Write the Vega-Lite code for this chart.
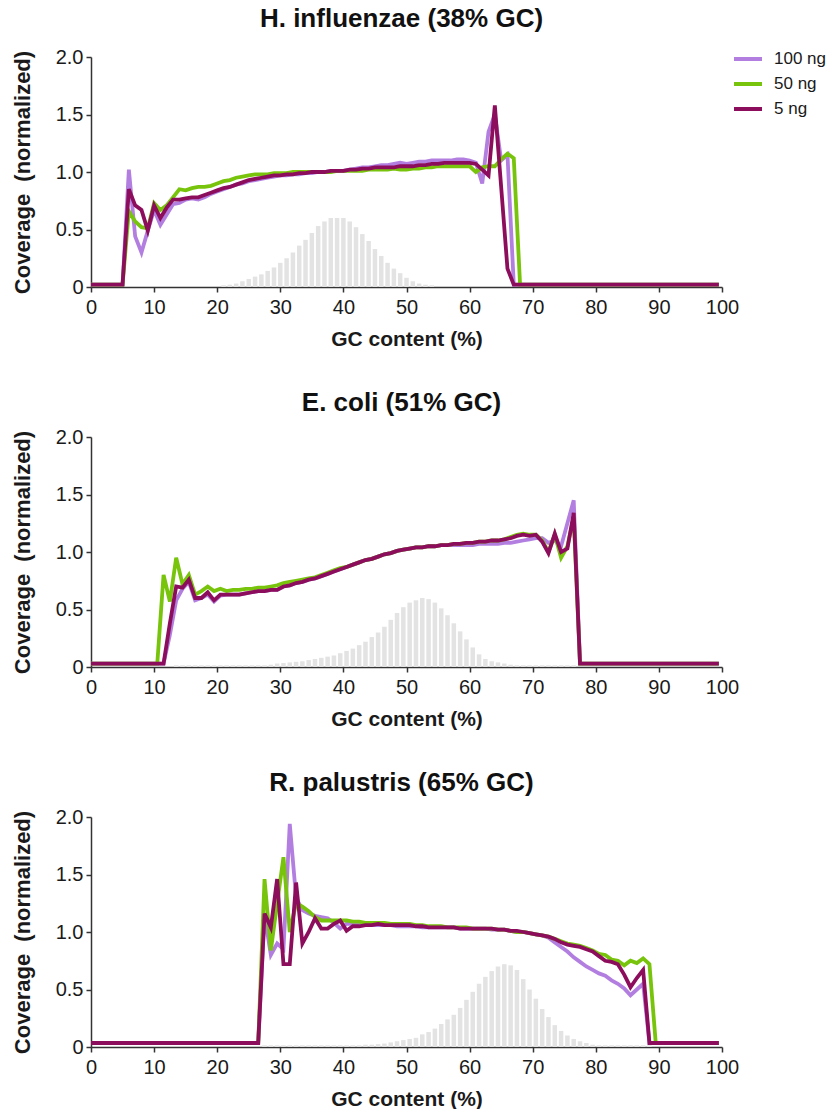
{
  "$schema": "https://vega.github.io/schema/vega-lite/v6.json",
  "background": "white",
  "padding": {"left": 11, "top": 6, "right": 0, "bottom": 0},
  "spacing": 41,
  "config": {
    "font": "Liberation Sans",
    "view": {"stroke": null},
    "axis": {
      "grid": false,
      "domainColor": "#333333",
      "domainWidth": 1.5,
      "tickColor": "#333333",
      "tickWidth": 1.5,
      "tickSize": 5,
      "labelFont": "Liberation Sans",
      "labelFontSize": 20,
      "labelColor": "#1a1a1a",
      "labelFlush": false,
      "titleFont": "Liberation Sans",
      "titleFontSize": 21,
      "titleFontWeight": "bold",
      "titleColor": "#1a1a1a"
    },
    "title": {
      "font": "Liberation Sans",
      "fontSize": 26,
      "fontWeight": "bold",
      "color": "#111111",
      "anchor": "middle",
      "dx": -5,
      "offset": 11
    },
    "legend": {
      "labelFont": "Liberation Sans",
      "labelFontSize": 17,
      "labelColor": "#1a1a1a"
    }
  },
  "resolve": {"legend": {"color": "independent"}},
  "datasets": {
    "H": [
      {"x":0,"100 ng":0.02,"50 ng":0.02,"5 ng":0.02},
      {"x":5,"100 ng":0.02,"50 ng":0.02,"5 ng":0.02},
      {"x":6,"100 ng":1.02,"50 ng":0.66,"5 ng":0.85},
      {"x":7,"100 ng":0.44,"50 ng":0.57,"5 ng":0.71},
      {"x":8,"100 ng":0.30,"50 ng":0.52,"5 ng":0.67},
      {"x":9,"100 ng":0.49,"50 ng":0.51,"5 ng":0.49},
      {"x":10,"100 ng":0.67,"50 ng":0.73,"5 ng":0.71},
      {"x":11,"100 ng":0.54,"50 ng":0.67,"5 ng":0.60},
      {"x":12,"100 ng":0.63,"50 ng":0.71,"5 ng":0.69},
      {"x":13,"100 ng":0.72,"50 ng":0.78,"5 ng":0.76},
      {"x":14,"100 ng":0.73,"50 ng":0.85,"5 ng":0.76},
      {"x":15,"100 ng":0.76,"50 ng":0.84,"5 ng":0.77},
      {"x":16,"100 ng":0.77,"50 ng":0.86,"5 ng":0.78},
      {"x":17,"100 ng":0.76,"50 ng":0.87,"5 ng":0.78},
      {"x":18,"100 ng":0.78,"50 ng":0.87,"5 ng":0.80},
      {"x":19,"100 ng":0.81,"50 ng":0.88,"5 ng":0.82},
      {"x":20,"100 ng":0.83,"50 ng":0.90,"5 ng":0.84},
      {"x":21,"100 ng":0.85,"50 ng":0.92,"5 ng":0.86},
      {"x":22,"100 ng":0.87,"50 ng":0.93,"5 ng":0.87},
      {"x":23,"100 ng":0.89,"50 ng":0.95,"5 ng":0.89},
      {"x":24,"100 ng":0.90,"50 ng":0.96,"5 ng":0.91},
      {"x":25,"100 ng":0.92,"50 ng":0.97,"5 ng":0.93},
      {"x":26,"100 ng":0.93,"50 ng":0.98,"5 ng":0.94},
      {"x":27,"100 ng":0.94,"50 ng":0.98,"5 ng":0.95},
      {"x":28,"100 ng":0.95,"50 ng":0.98,"5 ng":0.96},
      {"x":29,"100 ng":0.96,"50 ng":0.99,"5 ng":0.97},
      {"x":30,"100 ng":0.97,"50 ng":0.99,"5 ng":0.97},
      {"x":31,"100 ng":0.97,"50 ng":0.99,"5 ng":0.98},
      {"x":32,"100 ng":0.98,"50 ng":1.00,"5 ng":0.98},
      {"x":33,"100 ng":0.98,"50 ng":1.00,"5 ng":0.99},
      {"x":34,"100 ng":0.99,"50 ng":1.00,"5 ng":0.99},
      {"x":35,"100 ng":0.99,"50 ng":1.00,"5 ng":1.00},
      {"x":36,"100 ng":1.00,"50 ng":1.00,"5 ng":1.00},
      {"x":37,"100 ng":1.00,"50 ng":1.00,"5 ng":1.00},
      {"x":38,"100 ng":1.01,"50 ng":1.00,"5 ng":1.01},
      {"x":39,"100 ng":1.01,"50 ng":1.01,"5 ng":1.01},
      {"x":40,"100 ng":1.01,"50 ng":1.01,"5 ng":1.01},
      {"x":41,"100 ng":1.02,"50 ng":1.01,"5 ng":1.02},
      {"x":42,"100 ng":1.03,"50 ng":1.01,"5 ng":1.02},
      {"x":43,"100 ng":1.04,"50 ng":1.01,"5 ng":1.03},
      {"x":44,"100 ng":1.04,"50 ng":1.02,"5 ng":1.03},
      {"x":45,"100 ng":1.05,"50 ng":1.02,"5 ng":1.04},
      {"x":46,"100 ng":1.06,"50 ng":1.02,"5 ng":1.04},
      {"x":47,"100 ng":1.06,"50 ng":1.02,"5 ng":1.04},
      {"x":48,"100 ng":1.07,"50 ng":1.03,"5 ng":1.04},
      {"x":49,"100 ng":1.08,"50 ng":1.02,"5 ng":1.05},
      {"x":50,"100 ng":1.07,"50 ng":1.02,"5 ng":1.05},
      {"x":51,"100 ng":1.08,"50 ng":1.03,"5 ng":1.05},
      {"x":52,"100 ng":1.09,"50 ng":1.03,"5 ng":1.06},
      {"x":53,"100 ng":1.09,"50 ng":1.04,"5 ng":1.06},
      {"x":54,"100 ng":1.10,"50 ng":1.04,"5 ng":1.07},
      {"x":55,"100 ng":1.10,"50 ng":1.05,"5 ng":1.07},
      {"x":56,"100 ng":1.10,"50 ng":1.05,"5 ng":1.08},
      {"x":57,"100 ng":1.10,"50 ng":1.05,"5 ng":1.08},
      {"x":58,"100 ng":1.11,"50 ng":1.05,"5 ng":1.08},
      {"x":59,"100 ng":1.11,"50 ng":1.05,"5 ng":1.08},
      {"x":60,"100 ng":1.10,"50 ng":1.05,"5 ng":1.08},
      {"x":61,"100 ng":1.08,"50 ng":1.00,"5 ng":1.07},
      {"x":62,"100 ng":0.90,"50 ng":1.04,"5 ng":1.02},
      {"x":63,"100 ng":1.35,"50 ng":1.05,"5 ng":0.97},
      {"x":64,"100 ng":1.50,"50 ng":1.05,"5 ng":1.58},
      {"x":65,"100 ng":1.10,"50 ng":1.11,"5 ng":0.87},
      {"x":66,"100 ng":1.15,"50 ng":1.16,"5 ng":0.16},
      {"x":67,"100 ng":0.02,"50 ng":1.12,"5 ng":0.02},
      {"x":68,"100 ng":0.02,"50 ng":0.02,"5 ng":0.02},
      {"x":99.5,"100 ng":0.02,"50 ng":0.02,"5 ng":0.02}
    ],
    "E": [
      {"x":0,"100 ng":0.03,"50 ng":0.03,"5 ng":0.03},
      {"x":10.5,"100 ng":0.03,"50 ng":0.03,"5 ng":0.03},
      {"x":11.5,"100 ng":0.03,"50 ng":0.80,"5 ng":0.03},
      {"x":12.5,"100 ng":0.28,"50 ng":0.57,"5 ng":0.38},
      {"x":13.5,"100 ng":0.58,"50 ng":0.95,"5 ng":0.70},
      {"x":14.5,"100 ng":0.68,"50 ng":0.72,"5 ng":0.69},
      {"x":15.5,"100 ng":0.74,"50 ng":0.80,"5 ng":0.76},
      {"x":16.5,"100 ng":0.58,"50 ng":0.63,"5 ng":0.60},
      {"x":17.5,"100 ng":0.60,"50 ng":0.66,"5 ng":0.60},
      {"x":18.5,"100 ng":0.63,"50 ng":0.70,"5 ng":0.65},
      {"x":19.5,"100 ng":0.57,"50 ng":0.66,"5 ng":0.58},
      {"x":20.5,"100 ng":0.62,"50 ng":0.68,"5 ng":0.63},
      {"x":21.5,"100 ng":0.63,"50 ng":0.66,"5 ng":0.63},
      {"x":22.5,"100 ng":0.63,"50 ng":0.67,"5 ng":0.63},
      {"x":23.5,"100 ng":0.63,"50 ng":0.67,"5 ng":0.63},
      {"x":24.5,"100 ng":0.64,"50 ng":0.68,"5 ng":0.64},
      {"x":25.5,"100 ng":0.65,"50 ng":0.68,"5 ng":0.65},
      {"x":26.5,"100 ng":0.66,"50 ng":0.69,"5 ng":0.66},
      {"x":27.5,"100 ng":0.66,"50 ng":0.69,"5 ng":0.66},
      {"x":28.5,"100 ng":0.67,"50 ng":0.70,"5 ng":0.67},
      {"x":29.5,"100 ng":0.67,"50 ng":0.71,"5 ng":0.67},
      {"x":30.5,"100 ng":0.70,"50 ng":0.73,"5 ng":0.70},
      {"x":31.5,"100 ng":0.71,"50 ng":0.74,"5 ng":0.71},
      {"x":32.5,"100 ng":0.73,"50 ng":0.75,"5 ng":0.73},
      {"x":33.5,"100 ng":0.74,"50 ng":0.76,"5 ng":0.74},
      {"x":34.5,"100 ng":0.76,"50 ng":0.77,"5 ng":0.76},
      {"x":35.5,"100 ng":0.77,"50 ng":0.78,"5 ng":0.77},
      {"x":36.5,"100 ng":0.79,"50 ng":0.80,"5 ng":0.79},
      {"x":37.5,"100 ng":0.81,"50 ng":0.82,"5 ng":0.81},
      {"x":38.5,"100 ng":0.83,"50 ng":0.84,"5 ng":0.83},
      {"x":39.5,"100 ng":0.85,"50 ng":0.86,"5 ng":0.85},
      {"x":40.5,"100 ng":0.87,"50 ng":0.87,"5 ng":0.87},
      {"x":41.5,"100 ng":0.89,"50 ng":0.89,"5 ng":0.89},
      {"x":42.5,"100 ng":0.91,"50 ng":0.91,"5 ng":0.91},
      {"x":43.5,"100 ng":0.93,"50 ng":0.93,"5 ng":0.93},
      {"x":44.5,"100 ng":0.94,"50 ng":0.94,"5 ng":0.94},
      {"x":45.5,"100 ng":0.96,"50 ng":0.96,"5 ng":0.96},
      {"x":46.5,"100 ng":0.98,"50 ng":0.98,"5 ng":0.98},
      {"x":47.5,"100 ng":0.99,"50 ng":0.99,"5 ng":0.99},
      {"x":48.5,"100 ng":1.01,"50 ng":1.01,"5 ng":1.01},
      {"x":49.5,"100 ng":1.02,"50 ng":1.02,"5 ng":1.02},
      {"x":50.5,"100 ng":1.03,"50 ng":1.03,"5 ng":1.03},
      {"x":51.5,"100 ng":1.04,"50 ng":1.04,"5 ng":1.04},
      {"x":52.5,"100 ng":1.04,"50 ng":1.04,"5 ng":1.04},
      {"x":53.5,"100 ng":1.05,"50 ng":1.05,"5 ng":1.05},
      {"x":54.5,"100 ng":1.05,"50 ng":1.05,"5 ng":1.05},
      {"x":55.5,"100 ng":1.06,"50 ng":1.06,"5 ng":1.06},
      {"x":56.5,"100 ng":1.06,"50 ng":1.06,"5 ng":1.06},
      {"x":57.5,"100 ng":1.06,"50 ng":1.07,"5 ng":1.07},
      {"x":58.5,"100 ng":1.06,"50 ng":1.07,"5 ng":1.07},
      {"x":59.5,"100 ng":1.06,"50 ng":1.08,"5 ng":1.08},
      {"x":60.5,"100 ng":1.06,"50 ng":1.08,"5 ng":1.08},
      {"x":61.5,"100 ng":1.07,"50 ng":1.09,"5 ng":1.09},
      {"x":62.5,"100 ng":1.07,"50 ng":1.09,"5 ng":1.09},
      {"x":63.5,"100 ng":1.07,"50 ng":1.10,"5 ng":1.10},
      {"x":64.5,"100 ng":1.07,"50 ng":1.10,"5 ng":1.10},
      {"x":65.5,"100 ng":1.08,"50 ng":1.11,"5 ng":1.11},
      {"x":66.5,"100 ng":1.08,"50 ng":1.13,"5 ng":1.12},
      {"x":67.5,"100 ng":1.09,"50 ng":1.15,"5 ng":1.14},
      {"x":68.5,"100 ng":1.10,"50 ng":1.16,"5 ng":1.15},
      {"x":69.5,"100 ng":1.11,"50 ng":1.15,"5 ng":1.14},
      {"x":70.5,"100 ng":1.12,"50 ng":1.15,"5 ng":1.15},
      {"x":71.5,"100 ng":1.12,"50 ng":1.10,"5 ng":1.09},
      {"x":72.5,"100 ng":1.08,"50 ng":1.00,"5 ng":0.99},
      {"x":73.5,"100 ng":1.10,"50 ng":1.15,"5 ng":1.16},
      {"x":74.5,"100 ng":1.05,"50 ng":0.95,"5 ng":1.00},
      {"x":75.5,"100 ng":1.25,"50 ng":1.05,"5 ng":1.03},
      {"x":76.5,"100 ng":1.45,"50 ng":1.30,"5 ng":1.34},
      {"x":77.5,"100 ng":0.03,"50 ng":0.03,"5 ng":0.03},
      {"x":99.5,"100 ng":0.03,"50 ng":0.03,"5 ng":0.03}
    ],
    "R": [
      {"x":0,"100 ng":0.035,"50 ng":0.035,"5 ng":0.035},
      {"x":26.5,"100 ng":0.035,"50 ng":0.035,"5 ng":0.035},
      {"x":27.5,"100 ng":1.15,"50 ng":1.46,"5 ng":1.16},
      {"x":28.5,"100 ng":0.80,"50 ng":0.84,"5 ng":1.04},
      {"x":29.5,"100 ng":0.90,"50 ng":1.25,"5 ng":1.46},
      {"x":30.5,"100 ng":0.85,"50 ng":1.65,"5 ng":0.72},
      {"x":31.5,"100 ng":1.94,"50 ng":1.00,"5 ng":0.72},
      {"x":32.5,"100 ng":1.30,"50 ng":1.25,"5 ng":1.43},
      {"x":33.5,"100 ng":1.19,"50 ng":1.22,"5 ng":0.90},
      {"x":34.5,"100 ng":1.16,"50 ng":1.18,"5 ng":1.00},
      {"x":35.5,"100 ng":1.14,"50 ng":1.13,"5 ng":1.12},
      {"x":36.5,"100 ng":1.13,"50 ng":1.10,"5 ng":1.03},
      {"x":37.5,"100 ng":1.12,"50 ng":1.10,"5 ng":1.03},
      {"x":38.5,"100 ng":1.08,"50 ng":1.10,"5 ng":1.07},
      {"x":39.5,"100 ng":1.03,"50 ng":1.10,"5 ng":1.10},
      {"x":40.5,"100 ng":1.07,"50 ng":1.10,"5 ng":1.01},
      {"x":41.5,"100 ng":1.07,"50 ng":1.09,"5 ng":1.05},
      {"x":42.5,"100 ng":1.07,"50 ng":1.09,"5 ng":1.05},
      {"x":43.5,"100 ng":1.07,"50 ng":1.08,"5 ng":1.06},
      {"x":44.5,"100 ng":1.06,"50 ng":1.08,"5 ng":1.06},
      {"x":45.5,"100 ng":1.06,"50 ng":1.08,"5 ng":1.07},
      {"x":46.5,"100 ng":1.06,"50 ng":1.08,"5 ng":1.06},
      {"x":47.5,"100 ng":1.06,"50 ng":1.07,"5 ng":1.06},
      {"x":48.5,"100 ng":1.05,"50 ng":1.07,"5 ng":1.06},
      {"x":49.5,"100 ng":1.05,"50 ng":1.07,"5 ng":1.06},
      {"x":50.5,"100 ng":1.05,"50 ng":1.07,"5 ng":1.06},
      {"x":51.5,"100 ng":1.05,"50 ng":1.06,"5 ng":1.05},
      {"x":52.5,"100 ng":1.04,"50 ng":1.06,"5 ng":1.05},
      {"x":53.5,"100 ng":1.04,"50 ng":1.05,"5 ng":1.04},
      {"x":54.5,"100 ng":1.04,"50 ng":1.05,"5 ng":1.04},
      {"x":55.5,"100 ng":1.04,"50 ng":1.05,"5 ng":1.04},
      {"x":56.5,"100 ng":1.04,"50 ng":1.04,"5 ng":1.04},
      {"x":57.5,"100 ng":1.04,"50 ng":1.04,"5 ng":1.04},
      {"x":58.5,"100 ng":1.03,"50 ng":1.04,"5 ng":1.03},
      {"x":59.5,"100 ng":1.03,"50 ng":1.04,"5 ng":1.03},
      {"x":60.5,"100 ng":1.03,"50 ng":1.03,"5 ng":1.03},
      {"x":61.5,"100 ng":1.03,"50 ng":1.03,"5 ng":1.03},
      {"x":62.5,"100 ng":1.03,"50 ng":1.03,"5 ng":1.03},
      {"x":63.5,"100 ng":1.02,"50 ng":1.03,"5 ng":1.03},
      {"x":64.5,"100 ng":1.02,"50 ng":1.02,"5 ng":1.02},
      {"x":65.5,"100 ng":1.02,"50 ng":1.02,"5 ng":1.02},
      {"x":66.5,"100 ng":1.01,"50 ng":1.01,"5 ng":1.01},
      {"x":67.5,"100 ng":1.00,"50 ng":1.00,"5 ng":1.01},
      {"x":68.5,"100 ng":1.00,"50 ng":1.00,"5 ng":1.00},
      {"x":69.5,"100 ng":0.99,"50 ng":0.99,"5 ng":0.99},
      {"x":70.5,"100 ng":0.98,"50 ng":0.98,"5 ng":0.98},
      {"x":71.5,"100 ng":0.97,"50 ng":0.97,"5 ng":0.97},
      {"x":72.5,"100 ng":0.95,"50 ng":0.96,"5 ng":0.96},
      {"x":73.5,"100 ng":0.91,"50 ng":0.94,"5 ng":0.94},
      {"x":74.5,"100 ng":0.87,"50 ng":0.92,"5 ng":0.91},
      {"x":75.5,"100 ng":0.83,"50 ng":0.90,"5 ng":0.89},
      {"x":76.5,"100 ng":0.78,"50 ng":0.89,"5 ng":0.88},
      {"x":77.5,"100 ng":0.74,"50 ng":0.88,"5 ng":0.87},
      {"x":78.5,"100 ng":0.70,"50 ng":0.86,"5 ng":0.85},
      {"x":79.5,"100 ng":0.67,"50 ng":0.84,"5 ng":0.83},
      {"x":80.5,"100 ng":0.64,"50 ng":0.81,"5 ng":0.79},
      {"x":81.5,"100 ng":0.62,"50 ng":0.80,"5 ng":0.75},
      {"x":82.5,"100 ng":0.58,"50 ng":0.76,"5 ng":0.74},
      {"x":83.5,"100 ng":0.55,"50 ng":0.75,"5 ng":0.72},
      {"x":84.5,"100 ng":0.51,"50 ng":0.71,"5 ng":0.63},
      {"x":85.5,"100 ng":0.45,"50 ng":0.75,"5 ng":0.52},
      {"x":86.5,"100 ng":0.50,"50 ng":0.73,"5 ng":0.60},
      {"x":87.5,"100 ng":0.55,"50 ng":0.77,"5 ng":0.67},
      {"x":88.5,"100 ng":0.035,"50 ng":0.72,"5 ng":0.035},
      {"x":89.5,"100 ng":0.035,"50 ng":0.035,"5 ng":0.035},
      {"x":99.5,"100 ng":0.035,"50 ng":0.035,"5 ng":0.035}
    ],
    "hH": [
      {"x":21,"h":0.015},{"x":22,"h":0.02},{"x":23,"h":0.03},{"x":24,"h":0.05},{"x":25,"h":0.07},
      {"x":26,"h":0.09},{"x":27,"h":0.11},{"x":28,"h":0.14},{"x":29,"h":0.17},{"x":30,"h":0.21},
      {"x":31,"h":0.25},{"x":32,"h":0.30},{"x":33,"h":0.36},{"x":34,"h":0.41},{"x":35,"h":0.47},
      {"x":36,"h":0.53},{"x":37,"h":0.57},{"x":38,"h":0.60},{"x":39,"h":0.60},{"x":40,"h":0.60},
      {"x":41,"h":0.57},{"x":42,"h":0.52},{"x":43,"h":0.46},{"x":44,"h":0.40},{"x":45,"h":0.33},
      {"x":46,"h":0.27},{"x":47,"h":0.21},{"x":48,"h":0.16},{"x":49,"h":0.12},{"x":50,"h":0.08},
      {"x":51,"h":0.05},{"x":52,"h":0.03},{"x":53,"h":0.02},{"x":54,"h":0.015}
    ],
    "hE": [
      {"x":13.5,"h":0.015},{"x":14.5,"h":0.015},{"x":15.5,"h":0.015},{"x":16.5,"h":0.015},{"x":17.5,"h":0.015},
      {"x":18.5,"h":0.015},{"x":19.5,"h":0.015},{"x":20.5,"h":0.015},{"x":21.5,"h":0.015},{"x":22.5,"h":0.015},
      {"x":23.5,"h":0.015},{"x":24.5,"h":0.015},{"x":25.5,"h":0.015},{"x":26.5,"h":0.015},{"x":27.5,"h":0.015},
      {"x":28.5,"h":0.02},{"x":29.5,"h":0.03},{"x":30.5,"h":0.035},{"x":31.5,"h":0.04},{"x":32.5,"h":0.045},
      {"x":33.5,"h":0.05},{"x":34.5,"h":0.06},{"x":35.5,"h":0.07},{"x":36.5,"h":0.08},{"x":37.5,"h":0.09},
      {"x":38.5,"h":0.10},{"x":39.5,"h":0.12},{"x":40.5,"h":0.14},{"x":41.5,"h":0.16},{"x":42.5,"h":0.19},
      {"x":43.5,"h":0.22},{"x":44.5,"h":0.26},{"x":45.5,"h":0.30},{"x":46.5,"h":0.35},{"x":47.5,"h":0.41},
      {"x":48.5,"h":0.47},{"x":49.5,"h":0.52},{"x":50.5,"h":0.56},{"x":51.5,"h":0.58},{"x":52.5,"h":0.60},
      {"x":53.5,"h":0.59},{"x":54.5,"h":0.56},{"x":55.5,"h":0.51},{"x":56.5,"h":0.45},{"x":57.5,"h":0.38},
      {"x":58.5,"h":0.31},{"x":59.5,"h":0.24},{"x":60.5,"h":0.17},{"x":61.5,"h":0.11},{"x":62.5,"h":0.07},
      {"x":63.5,"h":0.05},{"x":64.5,"h":0.04},{"x":65.5,"h":0.03},{"x":66.5,"h":0.02},{"x":67.5,"h":0.015},
      {"x":68.5,"h":0.015},{"x":69.5,"h":0.015},{"x":70.5,"h":0.015},{"x":71.5,"h":0.015},{"x":72.5,"h":0.015},
      {"x":73.5,"h":0.015},{"x":74.5,"h":0.015},{"x":75.5,"h":0.015},{"x":76.5,"h":0.015}
    ],
    "hR": [
      {"x":27.5,"h":0.015},{"x":28.5,"h":0.015},{"x":29.5,"h":0.015},{"x":30.5,"h":0.015},{"x":31.5,"h":0.015},
      {"x":32.5,"h":0.015},{"x":33.5,"h":0.015},{"x":34.5,"h":0.015},{"x":35.5,"h":0.015},{"x":36.5,"h":0.015},
      {"x":37.5,"h":0.015},{"x":38.5,"h":0.015},{"x":39.5,"h":0.015},{"x":40.5,"h":0.015},{"x":41.5,"h":0.015},
      {"x":42.5,"h":0.015},{"x":43.5,"h":0.02},{"x":44.5,"h":0.02},{"x":45.5,"h":0.025},{"x":46.5,"h":0.03},
      {"x":47.5,"h":0.04},{"x":48.5,"h":0.05},{"x":49.5,"h":0.06},{"x":50.5,"h":0.07},{"x":51.5,"h":0.08},
      {"x":52.5,"h":0.11},{"x":53.5,"h":0.13},{"x":54.5,"h":0.16},{"x":55.5,"h":0.20},{"x":56.5,"h":0.24},
      {"x":57.5,"h":0.28},{"x":58.5,"h":0.34},{"x":59.5,"h":0.41},{"x":60.5,"h":0.48},{"x":61.5,"h":0.55},
      {"x":62.5,"h":0.61},{"x":63.5,"h":0.66},{"x":64.5,"h":0.70},{"x":65.5,"h":0.72},{"x":66.5,"h":0.71},
      {"x":67.5,"h":0.67},{"x":68.5,"h":0.59},{"x":69.5,"h":0.50},{"x":70.5,"h":0.42},{"x":71.5,"h":0.33},
      {"x":72.5,"h":0.26},{"x":73.5,"h":0.19},{"x":74.5,"h":0.14},{"x":75.5,"h":0.10},{"x":76.5,"h":0.07},
      {"x":77.5,"h":0.05},{"x":78.5,"h":0.035},{"x":79.5,"h":0.02},{"x":80.5,"h":0.015},{"x":81.5,"h":0.015},
      {"x":82.5,"h":0.015},{"x":83.5,"h":0.015},{"x":84.5,"h":0.015},{"x":85.5,"h":0.015},{"x":86.5,"h":0.015},
      {"x":87.5,"h":0.015},{"x":88.5,"h":0.015}
    ]
  },
  "vconcat": [
    {
      "width": 631,
      "height": 230,
      "title": "H. influenzae (38% GC)",
      "layer": [
        {
          "data": {"name": "hH"},
          "mark": {"type": "bar", "color": "#e3e3e3", "size": 4.5},
          "encoding": {
            "x": {"field": "x", "type": "quantitative", "scale": {"domain": [0, 100], "nice": false, "padding": 0}, "axis": {"title": "GC content (%)", "values": [0,10,20,30,40,50,60,70,80,90,100], "format": "d", "labelPadding": 5, "titlePadding": 11}},
            "y": {"field": "h", "type": "quantitative", "scale": {"domain": [0, 2], "nice": false}, "axis": {"title": "Coverage\u00a0 (normalized)", "titleFontSize": 22, "values": [0,0.5,1,1.5,2], "labelExpr": "datum.value == 0 ? '0' : format(datum.value, '.1f')", "labelPadding": 3, "titlePadding": 21}}
          }
        },
        {
          "data": {"name": "H"},
          "transform": [{"fold": ["100 ng", "50 ng", "5 ng"], "as": ["amount", "cov"]}],
          "mark": {"type": "line", "strokeWidth": 3.8},
          "encoding": {
            "x": {"field": "x", "type": "quantitative"},
            "y": {"field": "cov", "type": "quantitative"},
            "color": {"field": "amount", "type": "nominal", "sort": ["100 ng", "50 ng", "5 ng"], "scale": {"domain": ["100 ng", "50 ng", "5 ng"], "range": ["#b27fe0", "#78c40c", "#8c0d5c"]},
              "legend": {"orient": "none", "legendX": 641, "legendY": -14, "title": null, "symbolType": "stroke", "symbolStrokeWidth": 4, "symbolSize": 784, "rowPadding": 1, "labelOffset": 10, "padding": 0}}
          }
        }
      ]
    },
    {
      "width": 631,
      "height": 230,
      "title": "E. coli (51% GC)",
      "layer": [
        {
          "data": {"name": "hE"},
          "mark": {"type": "bar", "color": "#e3e3e3", "size": 4.5},
          "encoding": {
            "x": {"field": "x", "type": "quantitative", "scale": {"domain": [0, 100], "nice": false, "padding": 0}, "axis": {"title": "GC content (%)", "values": [0,10,20,30,40,50,60,70,80,90,100], "format": "d", "labelPadding": 5, "titlePadding": 11}},
            "y": {"field": "h", "type": "quantitative", "scale": {"domain": [0, 2], "nice": false}, "axis": {"title": "Coverage\u00a0 (normalized)", "titleFontSize": 22, "values": [0,0.5,1,1.5,2], "labelExpr": "datum.value == 0 ? '0' : format(datum.value, '.1f')", "labelPadding": 3, "titlePadding": 21}}
          }
        },
        {
          "data": {"name": "E"},
          "transform": [{"fold": ["100 ng", "50 ng", "5 ng"], "as": ["amount", "cov"]}],
          "mark": {"type": "line", "strokeWidth": 3.8},
          "encoding": {
            "x": {"field": "x", "type": "quantitative"},
            "y": {"field": "cov", "type": "quantitative"},
            "color": {"field": "amount", "type": "nominal", "sort": ["100 ng", "50 ng", "5 ng"], "scale": {"domain": ["100 ng", "50 ng", "5 ng"], "range": ["#b27fe0", "#78c40c", "#8c0d5c"]}, "legend": null}
          }
        }
      ]
    },
    {
      "width": 631,
      "height": 230,
      "title": "R. palustris (65% GC)",
      "layer": [
        {
          "data": {"name": "hR"},
          "mark": {"type": "bar", "color": "#e3e3e3", "size": 4.5},
          "encoding": {
            "x": {"field": "x", "type": "quantitative", "scale": {"domain": [0, 100], "nice": false, "padding": 0}, "axis": {"title": "GC content (%)", "values": [0,10,20,30,40,50,60,70,80,90,100], "format": "d", "labelPadding": 5, "titlePadding": 11}},
            "y": {"field": "h", "type": "quantitative", "scale": {"domain": [0, 2], "nice": false}, "axis": {"title": "Coverage\u00a0 (normalized)", "titleFontSize": 22, "values": [0,0.5,1,1.5,2], "labelExpr": "datum.value == 0 ? '0' : format(datum.value, '.1f')", "labelPadding": 3, "titlePadding": 21}}
          }
        },
        {
          "data": {"name": "R"},
          "transform": [{"fold": ["100 ng", "50 ng", "5 ng"], "as": ["amount", "cov"]}],
          "mark": {"type": "line", "strokeWidth": 3.8},
          "encoding": {
            "x": {"field": "x", "type": "quantitative"},
            "y": {"field": "cov", "type": "quantitative"},
            "color": {"field": "amount", "type": "nominal", "sort": ["100 ng", "50 ng", "5 ng"], "scale": {"domain": ["100 ng", "50 ng", "5 ng"], "range": ["#b27fe0", "#78c40c", "#8c0d5c"]}, "legend": null}
          }
        }
      ]
    }
  ]
}
